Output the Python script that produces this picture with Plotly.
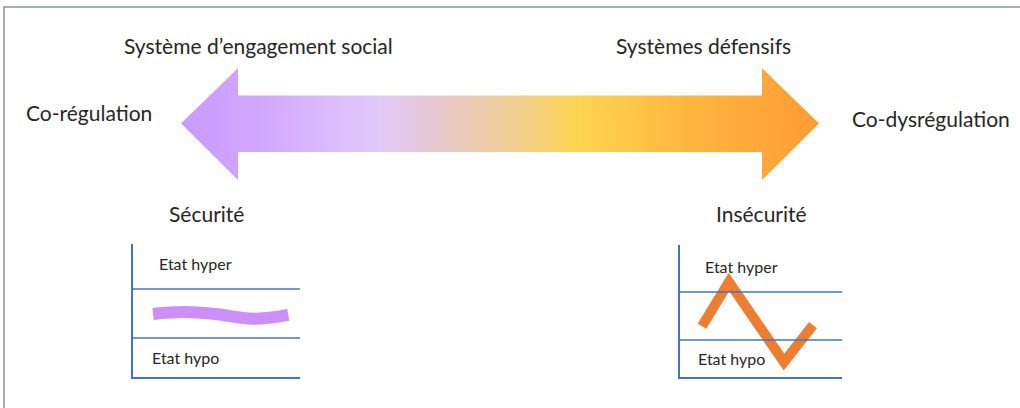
import plotly.graph_objects as go

W, H = 1020, 408

# --- données -------------------------------------------------------------
titres_haut = ["Système d’engagement social", "Systèmes défensifs"]
extremes = ["Co-régulation", "Co-dysrégulation"]
etats = ["Sécurité", "Insécurité"]
niveaux = ["Etat hyper", "Etat hypo"]
seuil_hypo, seuil_hyper = 1, 2

# courbe "sécurité" : reste dans la fenêtre de tolérance
securite_t = [1.2, 3.0, 4.9, 7.2, 9.3]
securite_niv = [1.49, 1.53, 1.49, 1.39, 1.47]

# courbe "insécurité" : oscille entre hyper et hypo
insecurite_t = [1.36, 3.02, 6.42, 8.21]
insecurite_niv = [1.29, 2.21, 0.54, 1.31]

# gradient de la flèche (position relative, couleur)
gradient = [
    [0.0, "#C99BFF"],
    [0.12, "#D2A6FF"],
    [0.31, "#E1C9FA"],
    [0.41, "#E9C8CC"],
    [0.52, "#F2D096"],
    [0.625, "#FFD44F"],
    [0.8, "#FEB53E"],
    [1.0, "#FF9C33"],
]

TXT = "#262626"
BLEU = "#4472C4"
FONT = "Lato"

fig = go.Figure()

# flèche double (coordonnées en pixels)
ax_x = [181, 238, 238, 762, 762, 819, 762, 762, 238, 238, 181]
ax_y = [123.5, 68, 95.5, 95.5, 68, 123.5, 180, 152, 152, 180, 123.5]
fig.add_trace(
    go.Scatter(
        x=ax_x,
        y=ax_y,
        mode="lines",
        line=dict(width=0),
        fill="toself",
        fillgradient=dict(type="horizontal", colorscale=gradient),
        hoverinfo="skip",
        xaxis="x",
        yaxis="y",
    )
)

# mini graphiques
fig.add_trace(
    go.Scatter(
        x=securite_t,
        y=securite_niv,
        mode="lines",
        line=dict(color="#CC8FF8", width=12, shape="spline", smoothing=1.1),
        xaxis="x2",
        yaxis="y2",
        hoverinfo="skip",
    )
)
fig.add_trace(
    go.Scatter(
        x=insecurite_t,
        y=insecurite_niv,
        mode="lines",
        line=dict(color="#ED7D31", width=10),
        xaxis="x3",
        yaxis="y3",
        hoverinfo="skip",
    )
)

shapes = [
    dict(type="rect", xref="x", yref="y", x0=4, y0=7, x1=1030, y1=420,
         line=dict(color="#8A9696", width=1.5), layer="below"),
]
for xa, ya in [("x2", "y2"), ("x3", "y3")]:
    for s in (seuil_hypo, seuil_hyper):
        shapes.append(dict(type="line", xref=xa, yref=ya, x0=0, x1=10, y0=s, y1=s,
                           line=dict(color=BLEU, width=1.5)))

ann = []
def txt(x, y, s, size=21, anchor="center"):
    ann.append(dict(x=x, y=y, xref="x", yref="y", text=s, showarrow=False,
                    xanchor=anchor, yanchor="middle",
                    font=dict(family=FONT, size=size, color=TXT)))

txt(258, 45, titres_haut[0])
txt(703, 45, titres_haut[1])
txt(89, 112, extremes[0])
txt(931, 118, extremes[1])
txt(206, 213, etats[0])
txt(761, 213, etats[1])
txt(157, 263, niveaux[0], 16, "left")
txt(150, 357, niveaux[1], 16, "left")
txt(703, 266, niveaux[0], 16, "left")
txt(696, 358, niveaux[1], 16, "left")

def mini_x(d):
    return dict(domain=d, range=[0, 10], showline=True, linecolor=BLEU, linewidth=2,
                showgrid=False, zeroline=False, showticklabels=False, ticks="")

def mini_y(d, r, anchor):
    return dict(domain=d, range=r, anchor=anchor, showline=True, linecolor=BLEU,
                linewidth=2, showgrid=False, zeroline=False, showticklabels=False, ticks="")

fig.update_layout(
    width=W,
    height=H,
    margin=dict(l=0, r=0, t=0, b=0),
    paper_bgcolor="white",
    plot_bgcolor="rgba(0,0,0,0)",
    showlegend=False,
    xaxis=dict(range=[0, W], visible=False, domain=[0, 1]),
    yaxis=dict(range=[H, 0], visible=False, domain=[0, 1]),
    xaxis2=dict(mini_x([133 / W, 300 / W]), anchor="y2"),
    yaxis2=mini_y([1 - 377 / H, 1 - 244 / H], [0.2, 2.92], "x2"),
    xaxis3=dict(mini_x([680 / W, 842 / W]), anchor="y3"),
    yaxis3=mini_y([1 - 377 / H, 1 - 245 / H], [0.23, 2.98], "x3"),
    shapes=shapes,
    annotations=ann,
)

fig.write_html(
    "out.html",
    config={"displayModeBar": False},
    post_script="document.body.style.margin='0';",
)
